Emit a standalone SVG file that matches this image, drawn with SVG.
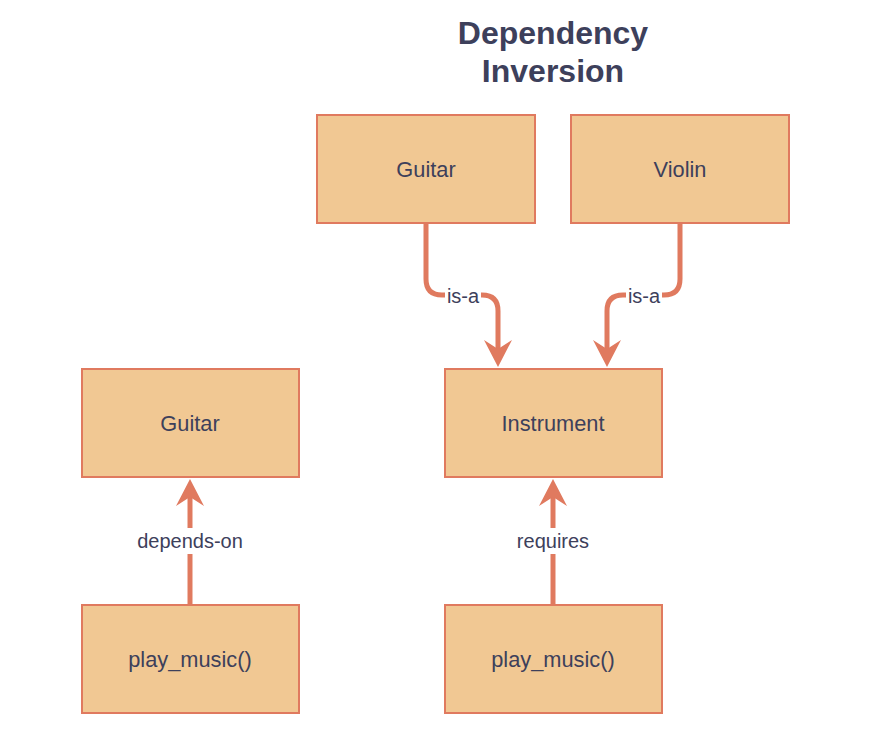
<svg xmlns="http://www.w3.org/2000/svg" width="887" height="742" viewBox="0 0 887 742">
<defs>
<style>
.box{fill:#F1C893;stroke:#E07A5F;stroke-width:2}
.lbl{font-family:"Liberation Sans",Arial,sans-serif;font-size:21.8px;fill:#3D405B;text-anchor:middle}
.elbl{font-family:"Liberation Sans",Arial,sans-serif;font-size:20px;fill:#3D405B;text-anchor:middle}
.title{font-family:"Liberation Sans",Arial,sans-serif;font-size:32px;font-weight:bold;fill:#3D405B;text-anchor:middle}
.edge{fill:none;stroke:#E07A5F;stroke-width:5}
.bg{fill:#FFFFFF}
</style>
<marker id="arr" markerUnits="userSpaceOnUse" markerWidth="28" markerHeight="28" viewBox="0 0 28 28" refX="10" refY="14" orient="auto">
<path d="M0,0 L27,14 L0,28 L9,14 Z" fill="#E07A5F"/>
</marker>
</defs>
<rect width="887" height="742" fill="#FFFFFF"/>
<g id="title">
<text class="title" x="553" y="44">Dependency</text>
<text class="title" x="553" y="82">Inversion</text>
</g>
<g id="connectors">
<path class="edge" d="M426,223 V279 Q426,295 442,295 H482 Q498,295 498,311 V350" marker-end="url(#arr)"/>
<path class="edge" d="M680,223 V279 Q680,295 664,295 H623 Q607,295 607,311 V350" marker-end="url(#arr)"/>
<path class="edge" d="M190,605 V496" marker-end="url(#arr)"/>
<path class="edge" d="M553,605 V496" marker-end="url(#arr)"/>
<rect class="bg" x="445" y="284" width="36" height="24"/>
<text class="elbl" x="463" y="303">is-a</text>
<rect class="bg" x="626" y="284" width="36" height="24"/>
<text class="elbl" x="644" y="303">is-a</text>
<rect class="bg" x="134" y="528" width="112" height="26"/>
<text class="elbl" x="190" y="548">depends-on</text>
<rect class="bg" x="513" y="528" width="80" height="26"/>
<text class="elbl" x="553" y="548">requires</text>
</g>
<g id="guitar-top">
<rect class="box" x="317" y="115" width="218" height="108"/>
<text class="lbl" x="426" y="177">Guitar</text>
</g>
<g id="violin">
<rect class="box" x="571" y="115" width="218" height="108"/>
<text class="lbl" x="680" y="177">Violin</text>
</g>
<g id="guitar-left">
<rect class="box" x="82" y="369" width="217" height="108"/>
<text class="lbl" x="190" y="431">Guitar</text>
</g>
<g id="instrument">
<rect class="box" x="445" y="369" width="217" height="108"/>
<text class="lbl" x="553" y="431">Instrument</text>
</g>
<g id="play-music-left">
<rect class="box" x="82" y="605" width="217" height="108"/>
<text class="lbl" x="190" y="667">play_music()</text>
</g>
<g id="play-music-right">
<rect class="box" x="445" y="605" width="217" height="108"/>
<text class="lbl" x="553" y="667">play_music()</text>
</g>
</svg>
